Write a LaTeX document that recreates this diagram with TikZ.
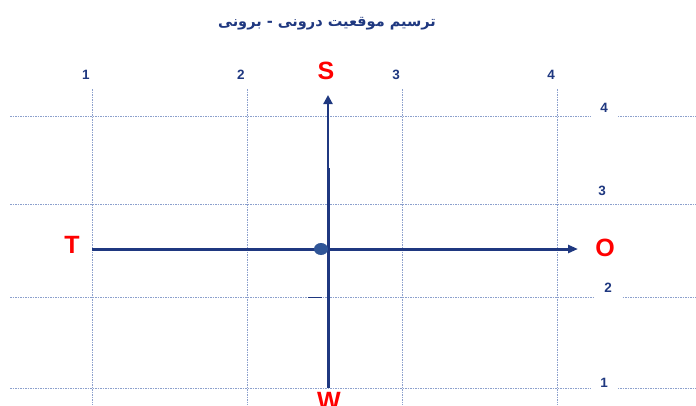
\documentclass[tikz,border=0pt]{standalone}
\usepackage{fontspec}
\setmainfont{Liberation Sans}
\newfontfamily\arabicfont[Script=Arabic]{DejaVu Sans}
\TeXXeTstate=1
\usetikzlibrary{arrows.meta,positioning}
\definecolor{axisblue}{RGB}{31,56,128}
\definecolor{gridblue}{RGB}{140,160,205}
\definecolor{dotblue}{RGB}{47,85,151}

\begin{document}
\begin{tikzpicture}[x=1pt,y=-1pt,
  gridline/.style={gridblue,line width=0.7pt,dash pattern=on 1.5pt off 1pt},
  numlabel/.style={font=\bfseries\fontsize{13.5}{15}\selectfont,text=axisblue},
  dirlabel/.style={font=\bfseries\fontsize{25}{28}\selectfont,text=red},
  axisline/.style={axisblue,line width=3pt}]
\useasboundingbox (0,0) rectangle (696,405);
% title
\node[text=axisblue,font=\arabicfont\bfseries\fontsize{14.5}{17}\selectfont] (title) at (327,24) {\beginR ترسیم موقعیت درونی - برونی\endR};
% grid
\foreach \x/\n in {92/1,247/2,402/3,557/4}{
  \draw[gridline] (\x,89) -- (\x,405);
  \node[numlabel] (top\n) at (\x-6,75) {\n};
}
\foreach \y in {116,204,297,388}{
  \draw[gridline] (10,\y) -- (696,\y);
}
\node[numlabel,fill=white,minimum width=27pt,minimum height=22pt] (right4) at (604,108) {4};
\node[numlabel] (right3) at (602,191) {3};
\node[numlabel,fill=white,minimum width=27pt,minimum height=22pt] (right2) at (608,288) {2};
\node[numlabel,fill=white,minimum width=27pt,minimum height=22pt] (right1) at (604,383) {1};
% directions
\node[dirlabel] (S) at (326,71) {S};
\node[dirlabel] (T) at (72,245) {T};
\node[dirlabel] (O) at (605,248) {O};
\node[dirlabel] (W) at (329,401) {W};
\coordinate (center) at (328,249);
\coordinate (hstart) at (92,249);
\coordinate (hend) at (578,249);
\coordinate (vtop) at (328,95);
\coordinate (vbot) at (328,388);
\coordinate (vmid) at (328,168);
% axes
\draw[axisline] (vbot) -- (vmid);
\draw[axisblue,line width=2.2pt,-{Triangle[length=9pt,width=9pt]}] (center) -- (vtop);
\draw[axisline,-{Triangle[length=10pt,width=8pt]}] (hstart) -- (hend);
\fill[dotblue] (321,249) ellipse (7 and 6);
\draw[axisblue,line width=1pt] (308,297) -- (322,297);
\end{tikzpicture}
\end{document}
